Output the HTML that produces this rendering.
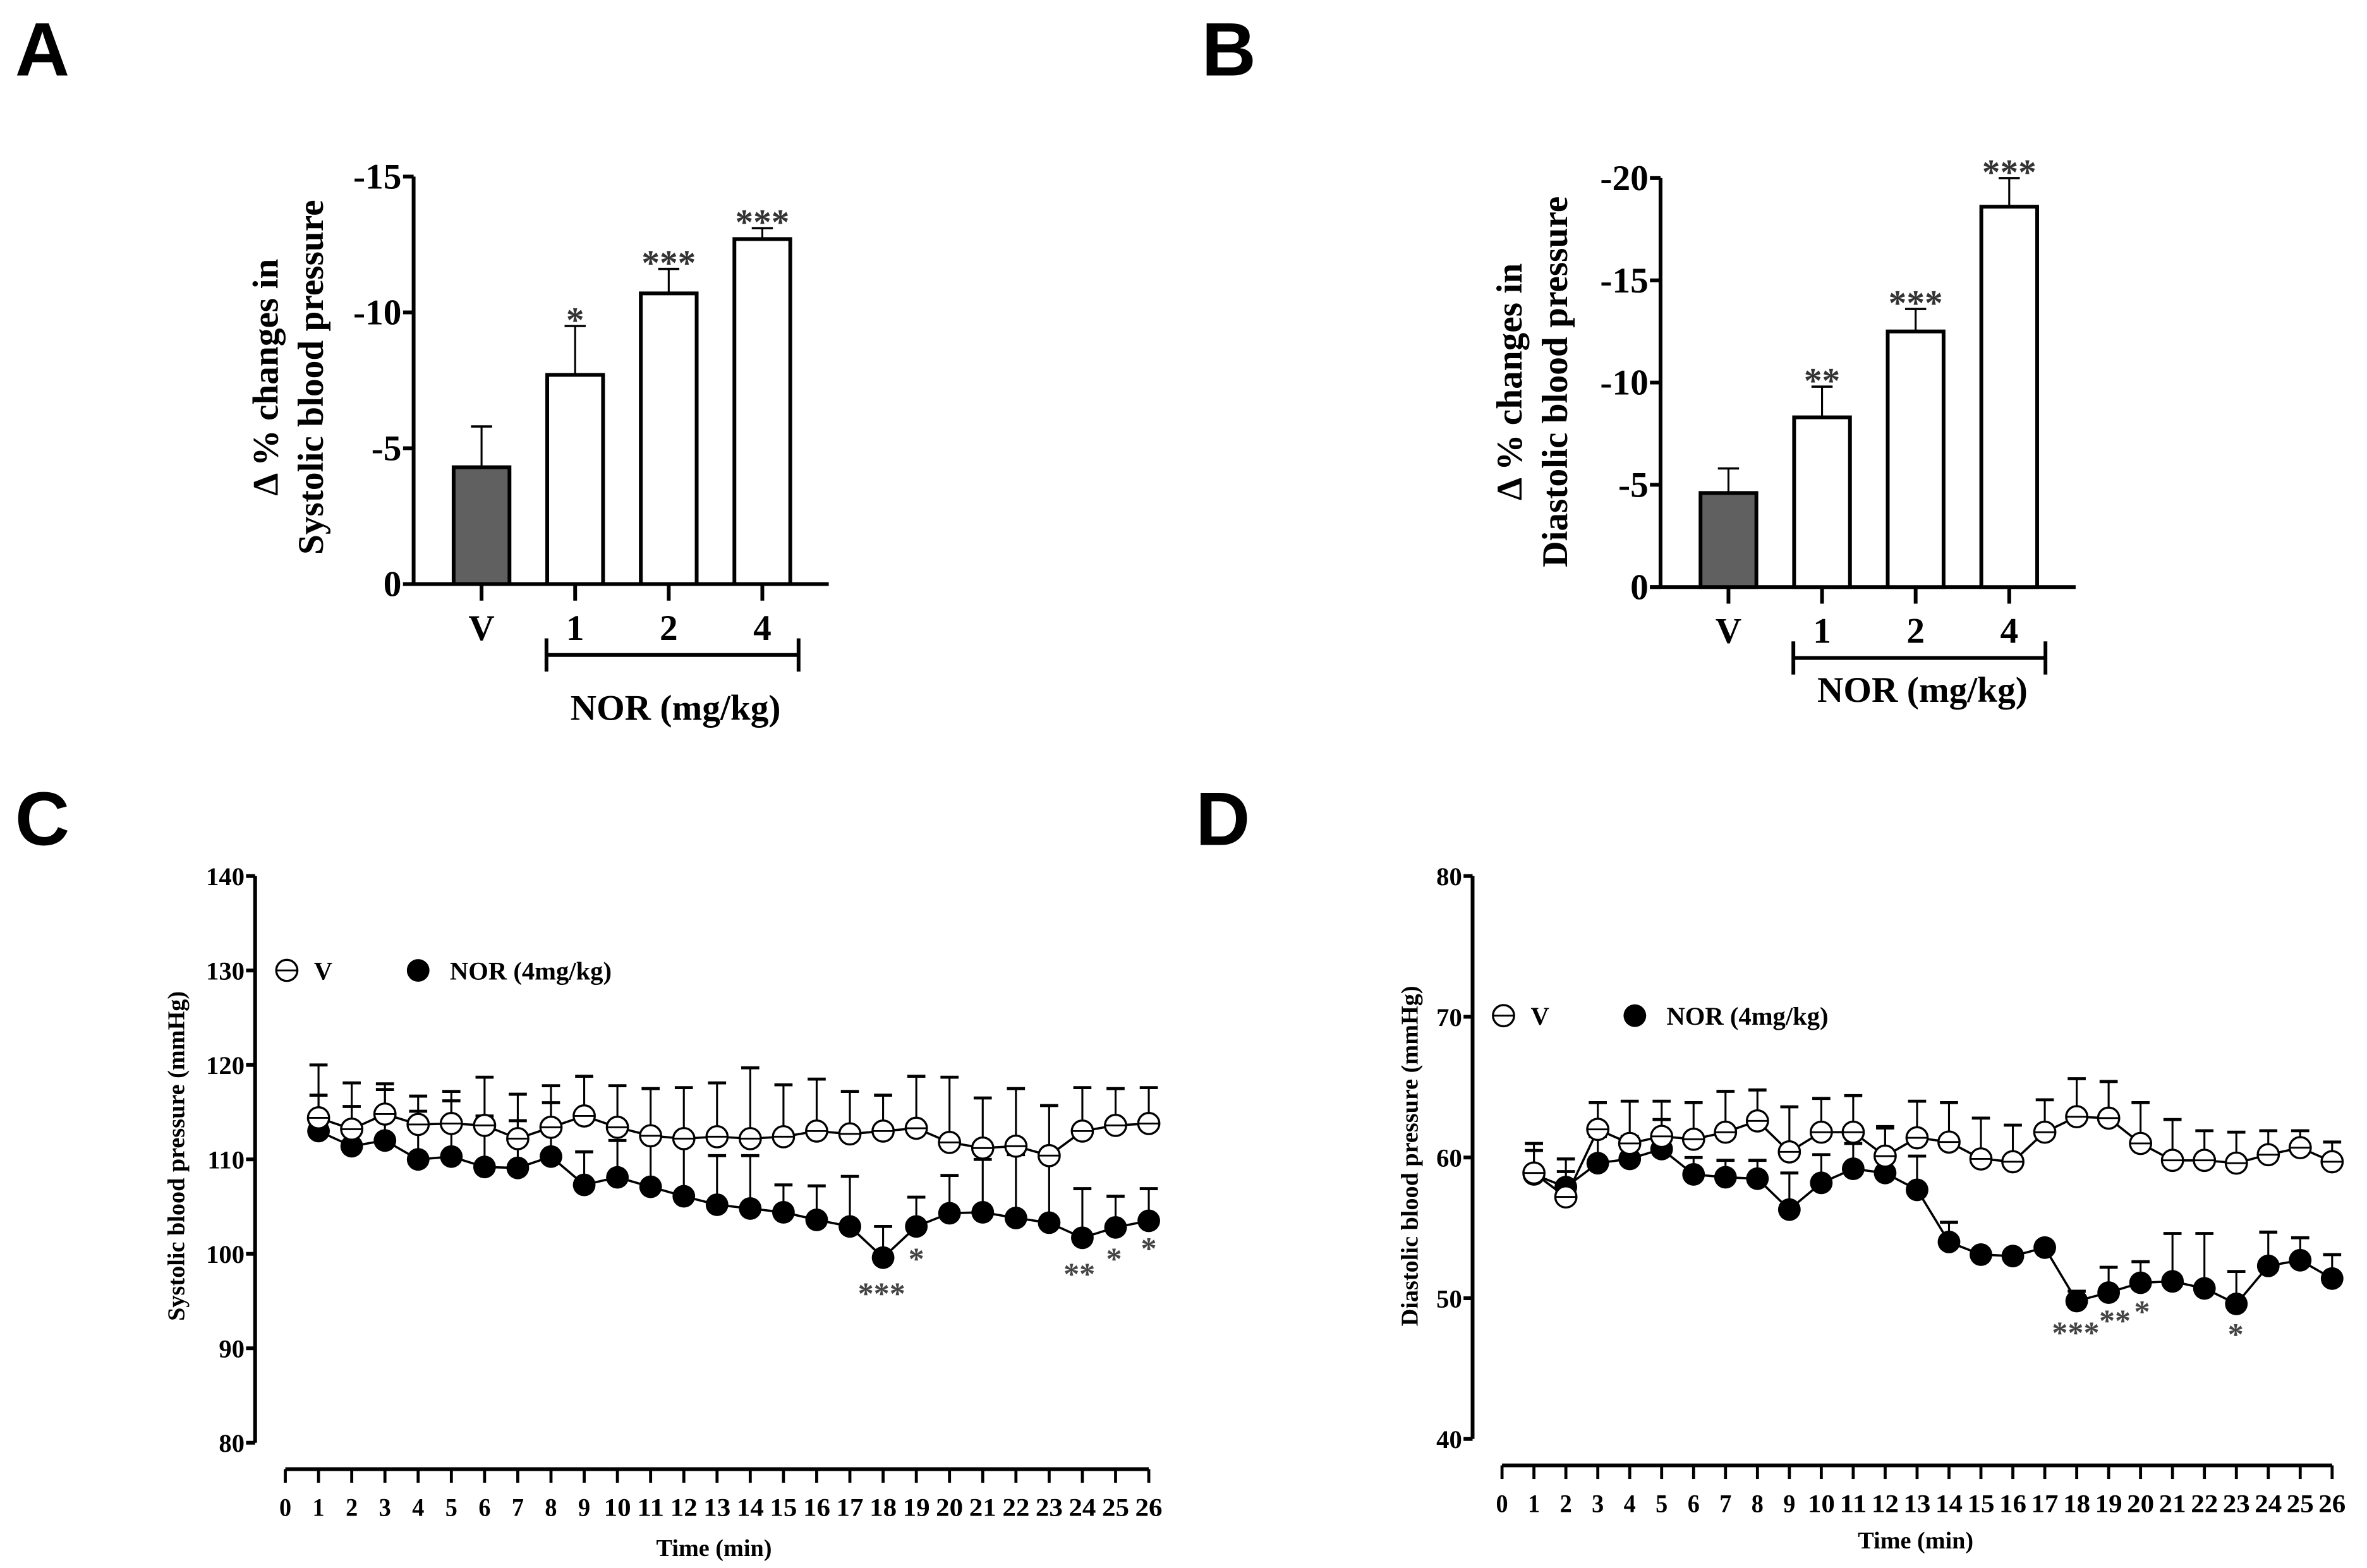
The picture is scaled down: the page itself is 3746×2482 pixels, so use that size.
<!DOCTYPE html>
<html><head><meta charset="utf-8">
<style>
html,body{margin:0;padding:0;background:#fff;}
svg{display:block;}
text{font-family:"Liberation Serif",serif;font-weight:bold;fill:#000;}
.pl{font-family:"Liberation Sans",sans-serif;font-weight:bold;}
</style></head>
<body>
<svg id="fig" xmlns="http://www.w3.org/2000/svg" width="3746" height="2482" viewBox="0 0 1568 1039" preserveAspectRatio="none">
<rect width="1568" height="1039" fill="#fff"/>
<text class="pl" x="10" y="50" font-size="50">A</text>
<text class="pl" x="796" y="50" font-size="50">B</text>
<text class="pl" x="10" y="560" font-size="50">C</text>
<text class="pl" x="792" y="560" font-size="50">D</text>
</svg>
<script>
// ---- Bar chart data ----
const barCats = ["V","1","2","4"];
const sbpMean = [-4.3,-7.7,-10.7,-12.7];
const sbpErr = [-5.8,-9.5,-11.6,-13.1];
const sbpStars = ["","*","***","***"];
const sbpTicks = [0,-5,-10,-15];
const dbpMean = [-4.6,-8.3,-12.5,-18.6];
const dbpErr = [-5.8,-9.8,-13.6,-20.0];
const dbpStars = ["","**","***","***"];
const dbpTicks = [0,-5,-10,-15,-20];
// ---- Time course data ----
const times = [1,2,3,4,5,6,7,8,9,10,11,12,13,14,15,16,17,18,19,20,21,22,23,24,25,26];
const xTickLabels = [0,1,2,3,4,5,6,7,8,9,10,11,12,13,14,15,16,17,18,19,20,21,22,23,24,25,26];
const sysV = [114.4,113.2,114.8,113.7,113.8,113.6,112.2,113.4,114.6,113.4,112.5,112.2,112.4,112.2,112.4,113.0,112.7,113.0,113.3,111.8,111.2,111.4,110.4,113.0,113.6,113.8];
const sysVErr = [120.0,118.1,118.0,116.7,117.2,118.7,116.9,117.8,118.8,117.8,117.5,117.6,118.1,119.7,117.9,118.5,117.2,116.8,118.8,118.7,116.5,117.5,115.7,117.6,117.5,117.6];
const sysN = [113.0,111.4,112.0,110.0,110.3,109.2,109.1,110.3,107.3,108.1,107.1,106.1,105.2,104.8,104.4,103.6,102.9,99.6,102.9,104.3,104.4,103.8,103.3,101.7,102.8,103.5];
const sysNErr = [116.8,115.6,117.4,115.1,116.2,114.6,114.1,116.0,110.8,112.0,112.5,112.0,110.4,110.4,107.3,107.2,108.2,102.9,106.0,108.3,110.0,110.5,110.5,106.9,106.1,106.9];
const sysYTicks = [80,90,100,110,120,130,140];
const diaV = [58.9,57.2,62.0,61.0,61.5,61.3,61.8,62.6,60.4,61.8,61.8,60.1,61.4,61.1,59.9,59.7,61.8,62.9,62.8,61.0,59.8,59.8,59.6,60.2,60.7,59.7];
const diaVErr = [60.5,59.0,63.9,64.0,64.0,63.9,64.7,64.8,63.6,64.2,64.4,62.1,64.0,63.9,62.8,62.3,64.1,65.6,65.4,63.9,62.7,61.9,61.8,61.9,61.9,61.1];
const diaN = [58.8,57.9,59.6,59.9,60.6,58.8,58.6,58.5,56.3,58.2,59.2,58.9,57.7,54.0,53.1,53.0,53.6,49.8,50.4,51.1,51.2,50.7,49.6,52.3,52.7,51.4];
const diaNErr = [61.0,59.9,61.5,61.5,62.7,60.0,59.8,59.8,58.9,60.2,61.0,62.2,60.1,55.4,53.5,53.4,54.0,50.5,52.2,52.6,54.6,54.6,51.9,54.7,54.3,53.1];
const diaYTicks = [40,50,60,70,80];

const NS="http://www.w3.org/2000/svg";
const svg=document.getElementById('fig');
function mk(tag,attrs,parent){const e=document.createElementNS(NS,tag);for(const k in attrs)e.setAttribute(k,attrs[k]);(parent||svg).appendChild(e);return e;}
function txt(s,attrs,parent){const e=mk('text',attrs,parent);e.textContent=s;return e;}

function barPanel(o){
  const g=mk('g',{});
  
  
  const y=v=>o.y0+(v/o.vmin)*(o.ytop-o.y0);
  const x=i=>o.ax+45+i*62;
  const ax=mk('line',{x1:o.ax,y1:o.ytop,x2:o.ax,y2:o.y0,stroke:'#000','stroke-width':2.5},g);
  
  
  const xa=mk('line',{x1:o.ax-7,y1:o.y0,x2:o.ax+275,y2:o.y0,stroke:'#000','stroke-width':2.5},g);
  
  
  o.ticks.forEach(t=>{
    mk('line',{x1:o.ax-7,y1:y(t),x2:o.ax,y2:y(t),stroke:'#000','stroke-width':2.5},g);
    const tl=txt(String(t),{x:o.ax-8,y:y(t)+8,'font-size':24,'text-anchor':'end'},g);
    
    
  });
  o.means.forEach((m,i)=>{
    const cx=x(i);
    mk('line',{x1:cx,y1:y(m),x2:cx,y2:y(o.errs[i]),stroke:'#000','stroke-width':1.3},g);
    mk('line',{x1:cx-7,y1:y(o.errs[i]),x2:cx+7,y2:y(o.errs[i]),stroke:'#000','stroke-width':1.5},g);
    const b=mk('rect',{x:cx-18.5,y:y(m),width:37,height:o.y0-y(m),fill:i==0?'#606060':'#fff',stroke:'#000','stroke-width':2.5},g);
    
    
    mk('line',{x1:cx,y1:o.y0,x2:cx,y2:o.y0+11,stroke:'#000','stroke-width':2.5},g);
    const cl=txt(o.cats[i],{x:cx,y:o.y0+37,'font-size':24,'text-anchor':'middle'},g);
    
    
    if(o.stars[i]){const s=txt(o.stars[i],{x:cx,y:y(o.errs[i])+4,'font-size':24,'text-anchor':'middle',style:'fill:#333'},g);
      
      }
  });
  const by=o.y0+47, bx1=x(1)-19, bx2=x(3)+24;
  const br=mk('path',{d:`M${bx1},${by-11}V${by+11}M${bx1},${by}H${bx2}M${bx2},${by-11}V${by+11}`,stroke:'#000','stroke-width':2.5,fill:'none'},g);
  
  
  const nl=txt('NOR (mg/kg)',{x:(bx1+bx2)/2+2,y:o.nory,'font-size':24,'text-anchor':'middle'},g);
  
  
  const tt=txt('',{transform:`translate(${o.tx},${o.tcy}) rotate(-90)`,'font-size':24,'text-anchor':'middle'},g);
  
  
  const t1=mk('tspan',{x:0,y:0},tt);t1.textContent='Δ % changes in';
  const t2=mk('tspan',{x:0,y:30},tt);t2.textContent=o.title2;
}
barPanel({name:'panel-a-systolic-bars',ax:274,y0:387,ytop:117,vmin:-15,ticks:sbpTicks,means:sbpMean,errs:sbpErr,stars:sbpStars,cats:barCats,nory:477,tx:184,tcy:250,title2:'Systolic blood pressure'});
barPanel({name:'panel-b-diastolic-bars',ax:1100,y0:389,ytop:118,vmin:-20,ticks:dbpTicks,means:dbpMean,errs:dbpErr,stars:dbpStars,cats:barCats,nory:465,tx:1008,tcy:253,title2:'Diastolic blood pressure'});

function linePanel(o){
  const g=mk('g',{});
  
  
  const ymin=o.yt[0], ymax=o.yt[o.yt.length-1];
  const y=v=>o.ybot+(v-ymin)/(ymax-ymin)*(o.ytop-o.ybot);
  const x=t=>o.x0+t*o.dx;
  const ya=mk('line',{x1:o.ax,y1:o.ytop,x2:o.ax,y2:o.ybot,stroke:'#000','stroke-width':2.5},g);
  
  
  o.yt.forEach(t=>{
    mk('line',{x1:o.ax-6,y1:y(t),x2:o.ax,y2:y(t),stroke:'#000','stroke-width':2.5},g);
    const l=txt(String(t),{x:o.ax-7,y:y(t)+6,'font-size':17,'text-anchor':'end'},g);
    
    
  });
  const xa=mk('line',{x1:x(0),y1:o.xay,x2:x(26),y2:o.xay,stroke:'#000','stroke-width':2.5},g);
  
  
  xTickLabels.forEach(t=>{
    mk('line',{x1:x(t),y1:o.xay,x2:x(t),y2:o.xay+9,stroke:'#000','stroke-width':2},g);
    const l=txt(String(t),{x:x(t),y:o.xay+31,'font-size':17,'text-anchor':'middle',textLength:t>=10?18:8,lengthAdjust:'spacingAndGlyphs'},g);
    
    
  });
  const xt=txt('Time (min)',{x:o.timex,y:o.timey,'font-size':16,'text-anchor':'middle'},g);
  
  
  const yt=txt(o.ytitle,{transform:`translate(${o.ytx},${o.ytcy}) rotate(-90)`,'font-size':16,'text-anchor':'middle'},g);
  
  
  [[o.nV,o.nE],[o.vV,o.vE]].forEach(([vals,errs])=>{
    times.forEach((t,i)=>{
      mk('line',{x1:x(t),y1:y(vals[i]),x2:x(t),y2:y(errs[i]),stroke:'#000','stroke-width':1.3},g);
      mk('line',{x1:x(t)-6,y1:y(errs[i]),x2:x(t)+6,y2:y(errs[i]),stroke:'#000','stroke-width':2},g);
    });
  });
  const lp=(vals)=>times.map((t,i)=>(i?'L':'M')+x(t).toFixed(1)+','+y(vals[i]).toFixed(1)).join('');
  const l1=mk('path',{d:lp(o.vV),fill:'none',stroke:'#000','stroke-width':1.5},g);
  
  
  const l2=mk('path',{d:lp(o.nV),fill:'none',stroke:'#000','stroke-width':1.5},g);
  
  
  times.forEach((t,i)=>{
    const c=mk('circle',{cx:x(t),cy:y(o.nV[i]),r:7.5,fill:'#000'},g);
    
    
  });
  times.forEach((t,i)=>{
    const c=mk('circle',{cx:x(t),cy:y(o.vV[i]),r:7,fill:'#fff',stroke:'#000','stroke-width':1.4},g);
    
    
    mk('line',{x1:x(t)-7,y1:y(o.vV[i]),x2:x(t)+7,y2:y(o.vV[i]),stroke:'#000','stroke-width':1.2},g);
  });
  const lg=mk('g',{},g);
  
  
  mk('circle',{cx:o.lx,cy:o.ly,r:7,fill:'#fff',stroke:'#000','stroke-width':1.4},lg);
  mk('line',{x1:o.lx-7,y1:o.ly,x2:o.lx+7,y2:o.ly,stroke:'#000','stroke-width':1.2},lg);
  txt('V',{x:o.lx+18,y:o.ly+6,'font-size':17},lg);
  mk('circle',{cx:o.lx+87,cy:o.ly,r:7.5,fill:'#000'},lg);
  txt('NOR (4mg/kg)',{x:o.lx+108,y:o.ly+6,'font-size':17},lg);
  o.stars.forEach(s=>{
    const e=txt(s[0],{x:s[1],y:s[2],'font-size':21,'text-anchor':'middle',style:'fill:#444'},g);
    
    
  });
}
linePanel({name:'panel-c-systolic-time',ax:169,ytop:580.5,ybot:956,yt:sysYTicks,x0:189,dx:22,xay:973.5,timex:473,timey:1031,ytitle:'Systolic blood pressure (mmHg)',ytx:122,ytcy:766,vV:sysV,vE:sysVErr,nV:sysN,nE:sysNErr,lx:190,ly:643,
  stars:[['***',584,864],['*',607,841],['**',715,851],['*',738,841],['*',761,834]]});
linePanel({name:'panel-d-diastolic-time',ax:975.5,ytop:580.5,ybot:953.5,yt:diaYTicks,x0:995,dx:21.15,xay:971,timex:1269,timey:1026,ytitle:'Diastolic blood pressure (mmHg)',ytx:939,ytcy:766,vV:diaV,vE:diaVErr,nV:diaN,nE:diaNErr,lx:996,ly:673,
  stars:[['***',1375,890],['**',1401,882],['*',1419,876],['*',1481,891]]});
</script>
</body></html>
